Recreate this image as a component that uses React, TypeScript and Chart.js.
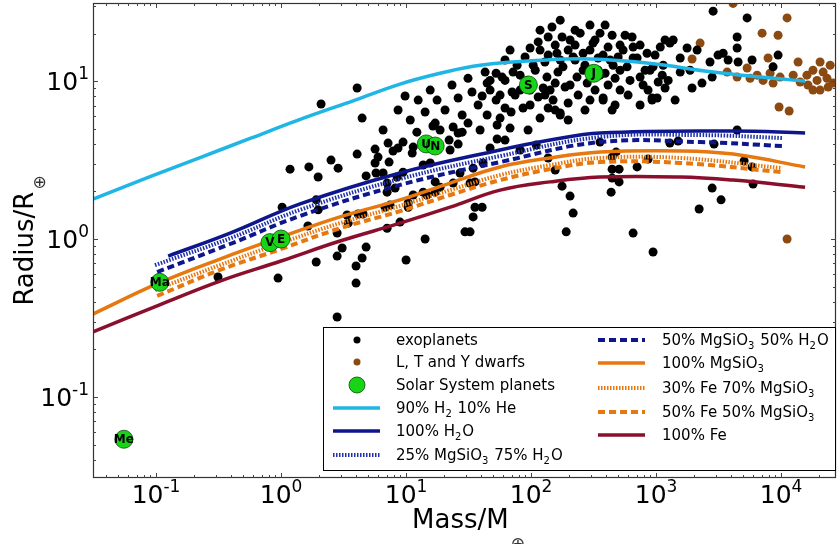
import React, { useEffect, useRef } from 'react';
import { Chart, registerables } from 'chart.js';

Chart.register(...registerables);

// ---------- data ----------
const EXO_MASS = [
  40.6, 44.5, 52.5, 58.6, 69.2, 70.5, 71.8, 77.3, 89.5, 98.2, 114, 118, 129, 134, 137, 147, 156, 161, 171, 177,
  180, 187, 198, 205, 217, 233, 247, 261, 281, 296, 313, 344, 356, 377, 391, 413, 445, 470, 497, 545,
  586, 643, 655, 705, 745, 787, 847, 929, 946, 1040, 1080, 1140, 1250, 1290, 1370, 1770, 1870, 1940, 2130, 2330,
  2700, 2810, 2860, 3130, 3440, 3770, 4450, 4450, 4530, 5350, 5860, 8630, 9460, 171, 198, 1180, 1560,
  61.9, 81.7, 108, 142, 171, 225, 270, 325, 429, 515, 565, 817, 982, 118, 296, 619, 356, 205, 156, 1560, 1180,
  92.9, 104, 125, 150, 164, 198, 238, 261, 325, 377, 413, 453, 515, 597, 655, 745, 863, 895, 1020, 1120,
  114, 137, 296, 470, 56.5, 61.9, 47.0, 225, 391, 171,
  129, 156, 445, 1420, 67.9, 44.5, 53.5, 270, 745, 98.2, 225, 515, 344,
  1.18, 1.67, 1.98, 2.51, 2.86, 4.06, 4.79, 5.65, 5.97, 5.65, 6.55, 5.75, 7.31, 7.87, 8.63, 9.46, 11.2, 11.4, 12.2, 16.4,
  17.1, 23.8, 26.1, 28.1, 31.3, 22.1, 26.1, 53.5, 13.7, 15.6, 9.46, 8.47, 7.05, 8.17, 7.05, 17.1, 27.0, 34.4, 41.3, 32.5,
  35.6, 17.1, 14.7, 13.7, 10.4, 10.4, 35.6, 40.6, 34.4, 29.6, 32.5, 14.2, 8.95, 7.05, 1.91, 1.98, 1.02, 1.64, 2.81, 3.37,
  3.44, 4.13, 3.08, 2.81, 4.79, 4.45, 3.98, 1.91, 0.946, 0.313, 3.98, 10, 2.81, 4.53, 6.79, 7.45, 11.4, 18.7, 23.8,
  356, 445, 479, 445, 506, 445, 506, 437, 705, 863, 655, 946, 1290, 1500, 2210, 2810, 2910, 3310, 4450, 5060,
  5860, 5970, 929, 377,
  2.09, 4.06, 8.63, 9.82, 10.8, 12.5, 14.2, 15.6, 17.7, 20.5, 23.3, 26.1, 28.1, 31.3, 33.7, 37.7, 42.9, 47.0, 52.5, 56.5,
  61.9, 67.9, 74.5, 81.7, 86.3, 18.7, 22.5, 39.1, 47.0, 61.9, 81.7, 94.6, 110, 137, 156, 177, 205, 217, 191, 7.18,
  4.45, 6.55, 98.2, 118, 137,
];
const EXO_RADIUS = [
  8.04, 9.71, 11.2, 10.6, 6.37, 8.52, 11.4, 12.6, 14.2, 16.2, 7.92, 15.7, 13.2, 10.6, 19.0, 22.0, 9.71, 15.0, 6.28, 19.0,
  12.3, 9.16, 7.26, 18.2, 14.2, 10.6, 20.1, 15.0, 9.71, 22.6, 17.4, 14.0, 20.1, 7.81, 11.2, 16.4, 19.5, 10.4, 14.2, 15.7,
  12.3, 19.0, 16.4, 14.0, 10.6, 9.44, 15.0, 7.81, 12.3, 9.86, 16.4, 12.6, 10.1, 17.4, 18.2, 16.2, 11.7, 9.04, 15.7, 9.71,
  13.2, 10.6, 27.7, 14.6, 15.0, 13.6, 19.0, 16.2, 13.2, 25.1, 13.6, 12.3, 14.6, 6.10, 5.67, 9.04, 11.4,
  13.6, 8.77, 11.7, 8.77, 13.6, 16.9, 12.6, 8.77, 13.6, 8.77, 19.5, 11.7, 14.6, 21.0, 15.7, 10.1, 10.9, 9.44, 16.9, 14.0, 18.2,
  10.1, 12.6, 9.04, 7.58, 11.4, 15.7, 8.15, 11.7, 18.2, 14.6, 9.44, 12.6, 16.9, 8.15, 14.0, 16.9, 8.77, 11.7, 7.81, 10.9,
  17.7, 14.6, 7.58, 7.05, 8.15, 6.75, 10.1, 21.0, 22.6, 24.3,
  8.15, 6.55, 6.55, 7.58, 15.7, 6.10, 5.27, 6.55, 7.05, 8.77, 13.6, 11.7, 11.7,
  2.77, 2.86, 2.47, 3.16, 2.81, 3.45, 2.51, 3.71, 3.30, 3.03, 2.62, 2.62, 3.07, 3.61, 3.77, 4.11, 3.50, 3.82, 4.75, 5.19,
  5.42, 5.12, 4.69, 4.75, 5.42, 4.23, 3.99, 4.30, 2.94, 3.03, 2.65, 2.47, 2.26, 2.10, 1.98, 2.30, 2.62, 2.81, 3.03, 2.26,
  2.30, 1.98, 1.90, 1.98, 1.69, 1.59, 1.59, 1.59, 1.38, 1.11, 1.11, 1.0, 1.28, 1.17, 1.77, 1.53, 1.59, 1.21, 1.09, 1.42,
  1.26, 1.44, 0.877, 0.780, 0.889, 0.758, 0.675, 0.715, 0.566, 0.575, 0.526, 0.736, 0.321, 1.44, 1.59, 1.64, 1.90, 2.13, 2.26,
  4.11, 3.30, 3.55, 2.77, 2.77, 2.43, 2.30, 1.98, 2.86, 3.21, 1.09, 0.828, 4.05, 4.17, 1.55, 2.10, 3.99, 1.77, 4.90, 3.12,
  2.86, 2.23, 7.58, 7.58,
  7.16, 9.04, 6.56, 8.04, 5.67, 7.58, 6.37, 8.77, 7.58, 6.56, 9.44, 7.81, 6.10, 10.4, 8.52, 7.05, 11.4, 8.77, 7.58, 5.83,
  10.1, 5.04, 8.15, 10.9, 6.75, 4.90, 3.66, 4.90, 3.77, 4.23, 3.66, 4.90, 3.94, 3.26, 2.73, 2.16, 1.87, 1.46, 1.11, 4.05,
  5.83, 4.90, 7.05, 5.83, 6.75,
];

const DWARF_MASS = [
  4130, 11170, 7050, 9460, 2250, 1940, 7870, 13680, 20500, 24700, 3700, 4450, 5350, 6430, 8170, 8630, 9820,
  12500, 14200, 16100, 18000, 19400, 20500, 23300, 23800, 26100, 18000, 16400, 9640, 11600, 21700, 5650, 7180, 11170,
];
const DWARF_RADIUS = [
  31, 25.1, 20.1, 19.5, 17.4, 13.8, 14.0, 13.2, 13.2, 12.6, 11.4, 10.6, 12.1, 10.9, 11.2, 9.71, 10.6,
  10.9, 9.86, 10.9, 11.7, 10.1, 8.77, 10.4, 9.16, 9.71, 8.77, 9.44, 6.85, 6.46, 11.4, 10.4, 10.1, 1.0,
];

const SOLAR_NAMES = ['Me', 'Ma', 'V', 'E', 'U', 'N', 'S', 'J'];
const SOLAR_MASS = [0.0553, 0.107, 0.815, 1.0, 14.5, 17.1, 95.2, 317.8];
const SOLAR_RADIUS = [0.054, 0.532, 0.949, 1.0, 4.0, 3.88, 9.45, 11.2];

const H2HE_M = [0.0313, 0.0895, 0.225, 0.565, 1.37, 3.91, 8.95, 18.7, 39.1, 134, 297, 847, 2858, 6790, 15560];
const H2HE_R = [1.79, 2.48, 3.28, 4.33, 5.66, 7.58, 9.57, 11.2, 12.6, 13.6, 13.8, 13.0, 11.4, 10.6, 10.0];

const H2O_M = [0.125, 0.391, 1.42, 8.95, 56.5, 142, 356, 4130, 15560];
const H2O_R = [0.78, 1.09, 1.67, 2.62, 3.66, 4.23, 4.69, 4.83, 4.69];

const MG25_M = [0.098, 0.391, 1.42, 8.95, 56.5, 356, 2250, 10190];
const MG25_R = [0.684, 1.01, 1.53, 2.40, 3.35, 4.42, 4.55, 4.36];

const MG50_M = [0.102, 0.391, 1.42, 8.95, 56.5, 356, 2250, 10190];
const MG50_R = [0.618, 0.93, 1.40, 2.20, 3.07, 4.11, 4.11, 3.88];

const MGSIO3_M = [0.0313, 0.1056, 0.325, 1.0, 2.96, 8.95, 22.5, 56.5, 142, 356, 1556, 4130, 15560];
const MGSIO3_R = [0.335, 0.527, 0.747, 1.03, 1.38, 1.77, 2.26, 2.86, 3.26, 3.55, 3.61, 3.45, 2.86];

const FE30_M = [0.098, 0.325, 1.0, 2.96, 8.95, 22.5, 56.5, 142, 356, 1556, 10190];
const FE30_R = [0.476, 0.684, 0.944, 1.26, 1.62, 2.04, 2.54, 2.94, 3.26, 3.26, 2.81];

const FE50_M = [0.102, 0.325, 1.0, 2.96, 8.95, 22.5, 56.5, 142, 356, 1556, 10190];
const FE50_R = [0.436, 0.637, 0.865, 1.17, 1.50, 1.90, 2.36, 2.77, 3.07, 3.03, 2.65];

const FE_M = [0.0313, 0.1056, 0.325, 1.0, 2.96, 8.95, 22.5, 56.5, 142, 356, 1556, 4130, 15560];
const FE_R = [0.258, 0.382, 0.542, 0.726, 0.971, 1.26, 1.59, 2.04, 2.30, 2.47, 2.47, 2.36, 2.13];

const X_TICKS = [0.1, 1, 10, 100, 1000, 10000];
const X_TICK_EXP = ['-1', '0', '1', '2', '3', '4'];
const Y_TICKS = [0.1, 1, 10];
const Y_TICK_EXP = ['-1', '0', '1'];

const X_MIN = 0.0313;
const X_MAX = 27500;
const Y_MIN = 0.0307;
const Y_MAX = 31.2;

const X_TITLE = 'Mass/M';
const Y_TITLE = 'Radius/R';
const EARTH_SYMBOL = '\u2295';

const LEGEND_COL1 = ['exoplanets', 'L, T and Y dwarfs', 'Solar System planets', '90% H_2 10% He', '100% H_2O', '25% MgSiO_3 75% H_2O'];
const LEGEND_COL2 = ['50% MgSiO_3 50% H_2O', '100% MgSiO_3', '30% Fe 70% MgSiO_3', '50% Fe 50% MgSiO_3', '100% Fe'];

// ---------- styles ----------
const C_LIGHTBLUE = '#1fb6e6';
const C_NAVY = '#0e168c';
const C_NAVY_DOT = '#2030a8';
const C_ORANGE = '#e6780f';
const C_CRIMSON = '#8a0f2d';
const C_BROWN = '#8b4a12';
const C_GREEN = '#17d417';

const FONT = '"DejaVu Sans", "Liberation Sans", sans-serif';

type LineStyle = { color: string; width: number; dash: number[] };
const LINE_STYLES: Record<string, LineStyle> = {
  h2he: { color: C_LIGHTBLUE, width: 3.5, dash: [] },
  h2o: { color: C_NAVY, width: 3.5, dash: [] },
  mg25: { color: C_NAVY_DOT, width: 4, dash: [1.5, 1.5] },
  mg50: { color: C_NAVY, width: 4, dash: [7, 4] },
  mgsio3: { color: C_ORANGE, width: 3.5, dash: [] },
  fe30: { color: C_ORANGE, width: 4, dash: [1.5, 1.5] },
  fe50: { color: C_ORANGE, width: 4, dash: [7, 4] },
  fe: { color: C_CRIMSON, width: 3.5, dash: [] },
};

const pts = (xs: number[], ys: number[]) => xs.map((x, i) => ({ x, y: ys[i] }));

function drawRich(ctx: CanvasRenderingContext2D, text: string, x: number, y: number, size: number) {
  const parts = text.split(/_(\d)/);
  let cx = x;
  parts.forEach((p, i) => {
    if (i % 2 === 1) {
      ctx.font = `${Math.round(size * 0.68)}px ${FONT}`;
      ctx.fillText(p, cx, y + size * 0.27);
      cx += ctx.measureText(p).width + 1;
    } else {
      ctx.font = `${size}px ${FONT}`;
      ctx.fillText(p, cx, y);
      cx += ctx.measureText(p).width;
    }
  });
}

const overlayPlugin = {
  id: 'overlay',
  afterDatasetsDraw(chart: any) {
    const ctx: CanvasRenderingContext2D = chart.ctx;
    const meta = chart.getDatasetMeta(0);
    ctx.save();
    ctx.fillStyle = '#000';
    ctx.font = `bold 12px ${FONT}`;
    ctx.textAlign = 'center';
    ctx.textBaseline = 'middle';
    meta.data.forEach((el: any, i: number) => {
      ctx.fillText(SOLAR_NAMES[i], el.x, el.y + 0.5);
    });
    ctx.restore();
  },
  afterDraw(chart: any) {
    const ctx: CanvasRenderingContext2D = chart.ctx;
    const a = chart.chartArea;
    const xs = chart.scales.x;
    const ys = chart.scales.y;
    ctx.save();

    // frame
    ctx.strokeStyle = '#333';
    ctx.lineWidth = 1.2;
    ctx.strokeRect(a.left + 0.5, a.top + 0.5, a.right - a.left - 1, a.bottom - a.top - 1);

    // ticks (inward, all sides)
    ctx.lineWidth = 1;
    ctx.strokeStyle = '#444';
    const drawXTick = (v: number, len: number) => {
      const px = Math.round(xs.getPixelForValue(v)) + 0.5;
      ctx.beginPath();
      ctx.moveTo(px, a.bottom);
      ctx.lineTo(px, a.bottom - len);
      ctx.moveTo(px, a.top);
      ctx.lineTo(px, a.top + len);
      ctx.stroke();
    };
    const drawYTick = (v: number, len: number) => {
      const py = Math.round(ys.getPixelForValue(v)) + 0.5;
      ctx.beginPath();
      ctx.moveTo(a.left, py);
      ctx.lineTo(a.left + len, py);
      ctx.moveTo(a.right, py);
      ctx.lineTo(a.right - len, py);
      ctx.stroke();
    };
    for (let k = -2; k <= 4; k++) {
      for (let m = 2; m <= 9; m++) {
        const v = m * Math.pow(10, k);
        if (v > X_MIN && v < X_MAX) drawXTick(v, 3);
        if (v > Y_MIN && v < Y_MAX) drawYTick(v, 3);
      }
    }
    X_TICKS.forEach((v) => drawXTick(v, 5));
    Y_TICKS.forEach((v) => drawYTick(v, 5));

    // tick labels
    ctx.fillStyle = '#000';
    ctx.textBaseline = 'alphabetic';
    ctx.textAlign = 'left';
    const big = 25;
    const small = 17;
    X_TICKS.forEach((v, i) => {
      const px = xs.getPixelForValue(v);
      ctx.font = `${big}px ${FONT}`;
      const w1 = ctx.measureText('10').width;
      ctx.font = `${small}px ${FONT}`;
      const w2 = ctx.measureText(X_TICK_EXP[i]).width;
      const sx = px - (w1 + w2) / 2;
      ctx.font = `${big}px ${FONT}`;
      ctx.fillText('10', sx, 503);
      ctx.font = `${small}px ${FONT}`;
      ctx.fillText(X_TICK_EXP[i], sx + w1, 492);
    });
    Y_TICKS.forEach((v, i) => {
      const py = ys.getPixelForValue(v);
      ctx.font = `${big}px ${FONT}`;
      const w1 = ctx.measureText('10').width;
      ctx.font = `${small}px ${FONT}`;
      const w2 = ctx.measureText(Y_TICK_EXP[i]).width;
      const sx = 89 - (w1 + w2);
      ctx.font = `${big}px ${FONT}`;
      ctx.fillText('10', sx, py + 9);
      ctx.font = `${small}px ${FONT}`;
      ctx.fillText(Y_TICK_EXP[i], sx + w1, py - 2);
    });

    // axis titles
    const tsize = 26;
    const esize = 17;
    ctx.font = `${tsize}px ${FONT}`;
    const tw = ctx.measureText(X_TITLE).width;
    ctx.font = `${esize}px ${FONT}`;
    const ew = ctx.measureText(EARTH_SYMBOL).width;
    const cx = (a.left + a.right) / 2 + 4;
    const sx = cx - (tw + ew + 2) / 2;
    ctx.font = `${tsize}px ${FONT}`;
    ctx.fillText(X_TITLE, sx, 528);
    ctx.fillStyle = '#333';
    ctx.font = `${esize}px ${FONT}`;
    ctx.fillText(EARTH_SYMBOL, sx + tw + 2, 549);

    ctx.fillStyle = '#000';
    ctx.save();
    ctx.translate(33, (a.top + a.bottom) / 2);
    ctx.rotate(-Math.PI / 2);
    ctx.font = `${tsize}px ${FONT}`;
    const yw = ctx.measureText(Y_TITLE).width;
    const ys0 = -(yw + ew + 2) / 2;
    ctx.fillText(Y_TITLE, ys0, 0);
    ctx.fillStyle = '#333';
    ctx.font = `${esize}px ${FONT}`;
    ctx.fillText(EARTH_SYMBOL, ys0 + yw + 2, 12);
    ctx.restore();

    // legend
    const L = { x: 323, y: 327, w: 513, h: 144 };
    ctx.fillStyle = '#fff';
    ctx.fillRect(L.x, L.y, L.w, L.h);
    ctx.strokeStyle = '#000';
    ctx.lineWidth = 1;
    ctx.strokeRect(L.x + 0.5, L.y + 0.5, L.w - 1, L.h - 1);

    const rows1 = [340, 362, 385, 408, 431, 455];
    const rows2 = [340, 363, 388, 412, 435];
    const lineHandle = (x0: number, y: number, st: LineStyle) => {
      ctx.save();
      ctx.strokeStyle = st.color;
      ctx.lineWidth = st.width;
      ctx.lineCap = 'butt';
      ctx.setLineDash(st.dash);
      ctx.beginPath();
      ctx.moveTo(x0, y);
      ctx.lineTo(x0 + 47, y);
      ctx.stroke();
      ctx.restore();
    };
    const dot = (x: number, y: number, r: number, fill: string, stroke?: string) => {
      ctx.beginPath();
      ctx.arc(x, y, r, 0, Math.PI * 2);
      ctx.fillStyle = fill;
      ctx.fill();
      if (stroke) {
        ctx.strokeStyle = stroke;
        ctx.lineWidth = 0.8;
        ctx.stroke();
      }
    };
    dot(357, rows1[0], 3.5, '#000');
    dot(357, rows1[1], 3.5, C_BROWN);
    dot(357, rows1[2], 8, C_GREEN, '#0a4a0a');
    lineHandle(333, rows1[3], LINE_STYLES.h2he);
    lineHandle(333, rows1[4], LINE_STYLES.h2o);
    lineHandle(333, rows1[5], LINE_STYLES.mg25);
    const col2Styles = [LINE_STYLES.mg50, LINE_STYLES.mgsio3, LINE_STYLES.fe30, LINE_STYLES.fe50, LINE_STYLES.fe];
    col2Styles.forEach((st, i) => lineHandle(598, rows2[i], st));

    ctx.fillStyle = '#000';
    LEGEND_COL1.forEach((t, i) => drawRich(ctx, t, 396, rows1[i] + 5, 15));
    LEGEND_COL2.forEach((t, i) => drawRich(ctx, t, 662, rows2[i] + 5, 15));

    ctx.restore();
  },
};

export default function App() {
  const ref = useRef<HTMLCanvasElement | null>(null);

  useEffect(() => {
    if (!ref.current) return;
    const line = (key: string, xs: number[], ys: number[], order: number) => {
      const st = LINE_STYLES[key];
      return {
        data: pts(xs, ys),
        showLine: true,
        borderColor: st.color,
        borderWidth: st.width,
        borderDash: st.dash,
        borderCapStyle: 'butt',
        pointRadius: 0,
        tension: 0.4,
        order,
      };
    };
    const chart = new Chart(ref.current, {
      type: 'scatter',
      data: {
        datasets: [
          {
            data: pts(SOLAR_MASS, SOLAR_RADIUS),
            pointRadius: 9,
            backgroundColor: C_GREEN,
            borderColor: '#0a4a0a',
            borderWidth: 0.8,
            order: 0,
          },
          line('fe', FE_M, FE_R, 1),
          line('fe50', FE50_M, FE50_R, 2),
          line('fe30', FE30_M, FE30_R, 3),
          line('mgsio3', MGSIO3_M, MGSIO3_R, 4),
          line('mg50', MG50_M, MG50_R, 5),
          line('mg25', MG25_M, MG25_R, 6),
          line('h2o', H2O_M, H2O_R, 7),
          line('h2he', H2HE_M, H2HE_R, 8),
          {
            data: pts(EXO_MASS, EXO_RADIUS),
            pointRadius: 4.5,
            backgroundColor: '#000',
            borderWidth: 0,
            order: 20,
          },
          {
            data: pts(DWARF_MASS, DWARF_RADIUS),
            pointRadius: 4.5,
            backgroundColor: C_BROWN,
            borderWidth: 0,
            order: 21,
          },
        ] as any,
      },
      options: {
        animation: false,
        responsive: false,
        events: [],
        layout: { autoPadding: false, padding: { left: 93, right: 2, top: 3, bottom: 66 } },
        scales: {
          x: { type: 'logarithmic', min: X_MIN, max: X_MAX, display: false },
          y: { type: 'logarithmic', min: Y_MIN, max: Y_MAX, display: false },
        },
        plugins: { legend: { display: false }, tooltip: { enabled: false } },
      } as any,
      plugins: [overlayPlugin],
    });
    return () => chart.destroy();
  }, []);

  return (
    <div style={{ position: 'absolute', left: 0, top: 0, width: 838, height: 544, background: '#fff' }}>
      <canvas ref={ref} width={838} height={544} style={{ display: 'block', width: 838, height: 544 }} />
    </div>
  );
}
